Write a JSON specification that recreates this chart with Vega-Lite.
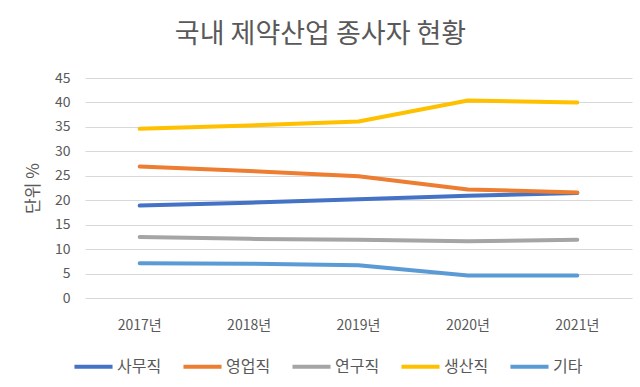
{
  "$schema": "https://vega.github.io/schema/vega-lite/v6.json",
  "width": 547,
  "height": 220,
  "autosize": {"type": "none"},
  "padding": {"left": 85, "top": 78, "right": 8, "bottom": 89},
  "background": "white",
  "config": {
    "font": "Noto Sans CJK KR",
    "view": {"stroke": null}
  },
  "title": {
    "text": "국내 제약산업 종사자 현황",
    "fontSize": 27,
    "fontWeight": "normal",
    "color": "#595959",
    "anchor": "middle",
    "dx": -38,
    "offset": 22
  },
  "data": {
    "values": [
      {"year": "2017년", "cat": "사무직", "v": 18.9},
      {"year": "2018년", "cat": "사무직", "v": 19.5},
      {"year": "2019년", "cat": "사무직", "v": 20.2},
      {"year": "2020년", "cat": "사무직", "v": 20.9},
      {"year": "2021년", "cat": "사무직", "v": 21.5},
      {"year": "2017년", "cat": "영업직", "v": 26.9},
      {"year": "2018년", "cat": "영업직", "v": 26.0},
      {"year": "2019년", "cat": "영업직", "v": 24.9},
      {"year": "2020년", "cat": "영업직", "v": 22.2},
      {"year": "2021년", "cat": "영업직", "v": 21.6},
      {"year": "2017년", "cat": "연구직", "v": 12.5},
      {"year": "2018년", "cat": "연구직", "v": 12.1},
      {"year": "2019년", "cat": "연구직", "v": 11.9},
      {"year": "2020년", "cat": "연구직", "v": 11.6},
      {"year": "2021년", "cat": "연구직", "v": 11.9},
      {"year": "2017년", "cat": "생산직", "v": 34.6},
      {"year": "2018년", "cat": "생산직", "v": 35.3},
      {"year": "2019년", "cat": "생산직", "v": 36.1},
      {"year": "2020년", "cat": "생산직", "v": 40.4},
      {"year": "2021년", "cat": "생산직", "v": 40.0},
      {"year": "2017년", "cat": "기타", "v": 7.1},
      {"year": "2018년", "cat": "기타", "v": 7.0},
      {"year": "2019년", "cat": "기타", "v": 6.7},
      {"year": "2020년", "cat": "기타", "v": 4.6},
      {"year": "2021년", "cat": "기타", "v": 4.6}
    ]
  },
  "mark": {"type": "line", "strokeWidth": 4, "strokeCap": "round", "strokeJoin": "round"},
  "encoding": {
    "x": {
      "field": "year",
      "type": "ordinal",
      "scale": {"type": "band", "paddingInner": 0, "paddingOuter": 0},
      "axis": {
        "title": null,
        "labelAngle": 0,
        "ticks": false,
        "domain": false,
        "labelPadding": 20,
        "labelFontSize": 14,
        "labelColor": "#595959",
        "grid": false
      }
    },
    "y": {
      "field": "v",
      "type": "quantitative",
      "scale": {"domain": [0, 45], "nice": false},
      "axis": {
        "title": "단위 %",
        "titleFontSize": 17,
        "titleFontWeight": "normal",
        "titleColor": "#595959",
        "titlePadding": 12,
        "values": [0, 5, 10, 15, 20, 25, 30, 35, 40, 45],
        "ticks": false,
        "domain": false,
        "labelPadding": 15,
        "labelFontSize": 14,
        "labelColor": "#595959",
        "gridColor": "#D9D9D9",
        "gridWidth": 1
      }
    },
    "color": {
      "field": "cat",
      "type": "nominal",
      "scale": {
        "domain": ["사무직", "영업직", "연구직", "생산직", "기타"],
        "range": ["#4472C4", "#ED7D31", "#A5A5A5", "#FFC000", "#5B9BD5"]
      },
      "legend": {
        "title": null,
        "orient": "none",
        "direction": "horizontal",
        "columns": 5,
        "legendX": -13,
        "legendY": 267,
        "symbolType": "stroke",
        "symbolSize": 1450,
        "symbolStrokeWidth": 4,
        "labelFontSize": 16,
        "labelColor": "#595959",
        "labelOffset": 2,
        "columnPadding": 13
      }
    }
  }
}
